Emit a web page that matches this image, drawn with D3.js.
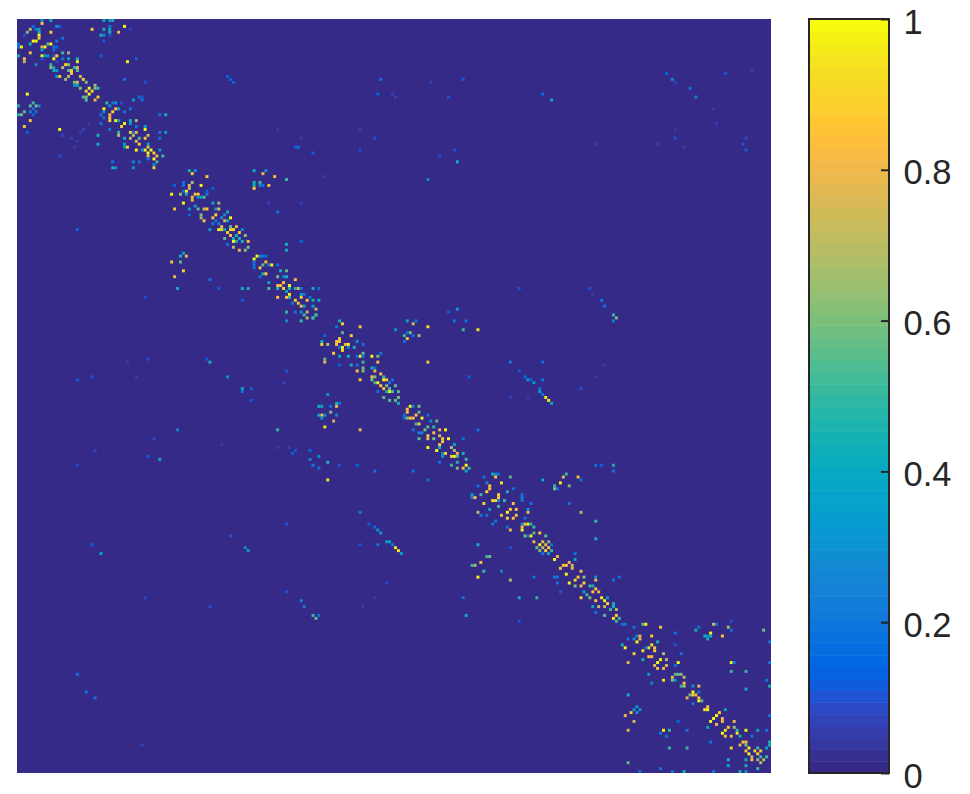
<!DOCTYPE html>
<html><head><meta charset="utf-8">
<script src="https://cdn.jsdelivr.net/npm/d3@7"></script>
<style>html,body{margin:0;padding:0;background:#fff}svg{display:block}</style>
</head><body><svg id="chart" width="970" height="794"></svg>
<script>
const matrixSize = 256;
const colorLevels = [[.2081,.1663,.5292],[.2116,.1898,.5777],[.2123,.2138,.627],[.2081,.2386,.6771],[.1959,.2645,.7279],[.1707,.2919,.7792],[.1253,.3242,.8303],[.0591,.3598,.8683],[.0117,.3875,.882],[.006,.4086,.8828],[.0165,.4266,.8786],[.0329,.443,.872],[.0498,.4586,.8641],[.0629,.4737,.8554],[.0723,.4887,.8467],[.0779,.504,.8384],[.0793,.52,.8312],[.0749,.5375,.8263],[.0641,.557,.824],[.0488,.5772,.8228],[.0343,.5966,.8199],[.0265,.6137,.8135],[.0239,.6287,.8038],[.0231,.6418,.7913],[.0228,.6535,.7768],[.0267,.6642,.7607],[.0384,.6743,.7436],[.059,.6838,.7254],[.0843,.6928,.7062],[.1133,.7015,.6859],[.1453,.7098,.6646],[.1801,.7177,.6424],[.2178,.725,.6193],[.2586,.7317,.5954],[.3022,.7376,.5712],[.3482,.7424,.5473],[.3953,.7459,.5244],[.442,.7481,.5033],[.4871,.7491,.484],[.53,.7491,.4661],[.5709,.7485,.4494],[.6099,.7473,.4337],[.6473,.7456,.4188],[.6834,.7435,.4044],[.7184,.7411,.3905],[.7525,.7384,.3768],[.7858,.7356,.3633],[.8185,.7327,.3498],[.8507,.7299,.336],[.8824,.7274,.3217],[.9139,.7258,.3063],[.945,.7261,.2886],[.9739,.7314,.2666],[.9938,.7455,.2403],[.999,.7653,.2164],[.9955,.7861,.1967],[.988,.8066,.1794],[.9789,.8271,.1633],[.9697,.8481,.1475],[.9626,.8705,.1309],[.9589,.8949,.1132],[.9598,.9218,.0948],[.9661,.9514,.0755],[.9763,.9831,.0538]];
const tickValues = [0,0.2,0.4,0.6,0.8,1];

// [column, row, value]
const block1 = [[8,0,.3],[8,1,.85],[11,0,.45],[5,2,.2],[13,2,.3],[14,2,.15],[25,3,.85],[29,0,.4],[31,0,.3],[32,0,.45],[31,2,.2],[36,2,1],[38,3,.07],[4,3,.7],[3,4,.6],[6,3,.25],[7,3,.4],[7,4,.45],[11,4,.9],[29,3,.45],[31,3,.4],[31,4,.45],[28,5,.45],[29,5,.3],[31,5,.1],[34,4,.8],[29,7,.12],[2,5,.1],[7,5,1],[7,6,.9],[15,6,.2],[5,7,1],[6,7,1],[4,8,.45],[13,7,.2],[0,8,.2],[0,9,.2],[1,9,1],[9,9,1],[10,8,.55],[11,8,1],[8,9,.75],[13,9,.15],[8,10,.4],[12,9,.2],[12,10,.2],[4,11,.85],[8,12,1],[9,12,.4],[10,12,.3],[12,12,.1],[15,11,.5],[17,11,.65],[0,12,.45],[28,12,.12],[12,13,1],[13,12,.9],[15,13,.2],[13,14,.1],[17,13,.4],[20,13,.45],[20,14,1],[2,13,.85],[2,14,.7],[8,13,.12],[37,14,1],[40,13,.12],[6,15,.25],[11,15,.5],[16,15,.9],[15,16,.7],[11,16,.65],[12,16,.4],[12,17,.45],[13,17,.35],[17,15,.65],[19,16,.5],[20,16,.75],[18,17,.9],[17,17,.55],[20,17,.55],[17,19,.7],[18,18,.85],[14,19,.9],[13,19,.4],[21,19,.75],[16,20,.65],[22,20,.9],[19,21,.6],[20,21,.75],[19,22,.3],[20,22,.4],[23,21,.6],[26,22,.65],[21,23,.6],[24,23,1],[23,24,.9],[25,24,.9],[24,25,1],[26,23,.6],[27,23,.5],[22,26,.55],[23,26,.6],[23,27,.55],[27,26,.9],[26,27,.8],[3,25,1],[36,20,.2],[43,21,.1],[5,28,.5],[0,29,.45],[4,29,.55],[6,29,.6],[7,29,.25],[5,30,.2],[4,31,.25],[6,31,.2],[0,32,.45],[1,32,.6],[2,31,.55],[5,32,.15],[4,34,.85],[2,36,.85],[14,37,1],[3,38,.15],[29,30,1],[30,28,.5],[32,28,.2],[31,29,.3],[33,28,.3],[34,30,.4],[29,31,.3],[28,32,.2],[31,33,.85],[31,32,.8],[32,31,.9],[33,30,.85],[31,34,.9],[29,33,.2],[33,34,1],[34,34,.4],[38,30,.2],[38,34,.45],[40,34,.65],[38,35,.35],[36,35,1],[35,36,.9],[43,36,.4],[43,37,1],[40,36,.2],[38,38,.9],[40,38,.8],[39,38,.2],[34,38,.5],[34,39,.7],[36,40,.45],[38,40,.7],[39,39,.7],[40,41,.75],[43,40,.85],[44,39,.75],[41,40,.55],[36,42,.35],[36,43,.35],[37,43,.9],[40,44,1],[41,42,.85],[44,42,.4],[44,43,.8],[45,44,1],[43,44,1],[44,45,1],[42,44,.3],[46,45,.9],[47,46,.8],[44,46,.8],[46,47,1],[48,44,.3],[49,46,.5],[44,47,.2],[47,48,.5],[46,49,.3],[46,50,.9],[48,32,.2],[50,32,.45],[27,39,.45],[27,42,.45],[28,35,.2],[31,37,.2],[32,48,.2],[32,50,.45],[39,48,.25],[39,50,.3],[41,48,.2],[48,38,.2],[48,40,.2],[50,38,.35],[39,27,.4],[41,26,.2],[42,26,.1],[42,27,.2],[35,28,.1],[36,31,.2],[33,50,.3],[20,41,.06],[15,39,.08],[18,40,.07],[21,38,.06],[14,46,.08],[19,43,.06],[22,37,.07],[24,35,.06]];

const block2 = [[58,51,.45],[60,51,.3],[59,52,.85],[64,53,.9],[80,51,.45],[84,51,.3],[83,52,.8],[87,53,.85],[91,54,.5],[59,55,.65],[56,55,.2],[62,56,1],[80,55,.45],[82,55,.5],[85,56,.85],[80,56,.45],[82,56,.25],[83,56,.2],[80,57,.9],[53,56,.15],[56,56,.2],[58,56,.75],[58,57,.75],[57,58,1],[56,58,.2],[57,59,.4],[55,59,.65],[66,57,.15],[52,59,1],[61,59,.9],[60,59,.85],[59,60,.85],[59,61,.8],[64,59,.2],[63,60,.55],[62,60,.4],[61,60,.3],[64,58,.15],[56,62,1],[53,64,.85],[66,62,.4],[68,62,.65],[58,64,.35],[60,63,.3],[61,64,.55],[64,64,.9],[67,64,.3],[68,64,.8],[63,64,.75],[71,65,.45],[58,66,.15],[62,66,.6],[67,66,.9],[66,67,.85],[69,67,.3],[70,66,.25],[62,67,.65],[63,68,.85],[72,67,1],[70,68,.75],[67,68,.2],[66,69,.2],[68,69,.25],[71,68,.4],[69,70,.8],[72,70,.55],[74,70,.8],[65,71,.35],[69,71,.9],[72,71,.9],[76,71,.25],[68,71,1],[70,71,.4],[73,71,.95],[71,72,.9],[72,73,.85],[75,72,.85],[77,73,.65],[70,74,.55],[74,73,.45],[73,74,.45],[75,74,.45],[73,75,1],[76,75,.45],[74,75,.45],[78,75,.85],[71,76,.2],[73,77,.7],[77,78,.6],[78,77,.6],[75,78,.8],[57,80,.8],[56,79,.4],[55,80,.45],[55,82,.55],[52,82,.85],[56,85,.9],[53,87,.8],[65,88,.2],[54,91,.45],[76,91,.45],[78,91,.45],[68,91,.12],[76,95,.12],[91,76,.45],[91,78,.45],[96,75,.15],[88,65,.2],[85,62,.07],[96,62,.07],[81,80,1],[80,81,1],[80,82,.2],[80,83,.2],[80,84,.2],[83,80,.2],[84,80,.2],[82,80,.3],[84,82,.85],[85,83,.25],[83,83,.55],[82,84,.85],[86,83,1],[88,83,.2],[83,86,.45],[84,86,.9],[82,87,.2],[89,85,.45],[91,85,.55],[90,87,.25],[88,87,.6],[91,87,.45],[94,88,.85],[85,89,.4],[85,91,.55],[88,90,.85],[89,90,.85],[90,89,.85],[92,90,1],[92,91,.45],[95,91,.8],[88,91,.45],[90,91,.9],[94,91,.45],[96,91,.2],[100,91,.45],[102,91,.2],[91,92,.4],[92,93,1],[97,93,.2],[96,93,.35],[88,94,.85],[91,94,.85],[92,94,.5],[96,94,.9],[99,94,.2],[94,95,.9],[98,95,.85],[100,95,.45],[102,95,.45],[93,96,.2],[95,96,.8],[96,97,.85],[97,97,.4],[100,97,.4],[101,98,.7],[91,99,.5],[94,99,.2],[96,99,.3],[98,99,.7],[97,100,.5],[98,101,.7],[101,100,.55],[100,101,.5],[91,102,.25],[96,102,.5]];

const block3 = [[101,100,.5],[100,101,.5],[109,102,.45],[110,103,.9],[116,104,.85],[108,104,.2],[132,102,.35],[135,102,.2],[134,103,.75],[139,104,.95],[128,105,.3],[151,105,.5],[156,105,.95],[152,102,.2],[148,102,.2],[149,98,.3],[146,99,.15],[110,106,.55],[113,107,.9],[133,106,.6],[132,106,.2],[136,107,.7],[131,107,.5],[134,107,.2],[132,108,.85],[131,109,.2],[104,107,.15],[109,108,.85],[109,109,.85],[103,109,.45],[103,110,.9],[105,110,.7],[108,109,.85],[108,110,.85],[112,110,1],[115,109,.3],[117,110,.2],[110,111,1],[111,110,.8],[110,112,.95],[109,111,.2],[112,111,.25],[114,111,.45],[107,113,.9],[117,113,.55],[123,113,.2],[109,114,.4],[112,114,.45],[116,114,1],[115,114,.2],[117,114,.2],[120,114,1],[122,114,.6],[122,116,.85],[104,115,.6],[104,116,.75],[117,116,.5],[139,116,.85],[109,117,.15],[113,117,.45],[115,117,.2],[117,118,.6],[120,118,.45],[121,118,.2],[115,119,.85],[117,119,.6],[121,119,.8],[123,120,.85],[116,122,.85],[120,121,.85],[120,122,.6],[121,121,.6],[124,121,.5],[124,122,1],[125,122,.85],[127,122,.2],[121,123,.5],[122,123,1],[123,124,.85],[126,123,.2],[128,124,.55],[124,125,.85],[125,124,.6],[126,125,.55],[129,126,.55],[125,126,.45],[126,126,1],[127,126,.5],[122,126,.2],[124,128,.55],[126,129,.55],[128,129,.55],[129,128,.6],[129,130,.45],[105,127,.3],[108,130,.45],[109,130,.2],[108,131,.8],[103,131,.4],[106,131,.2],[106,133,.6],[103,134,.85],[104,134,.3],[103,135,.3],[108,134,.25],[107,136,.75],[104,138,.95],[116,139,.8],[133,131,1],[132,132,.85],[132,133,.85],[131,134,.2],[131,135,.2],[134,131,.25],[136,131,.6],[136,133,.55],[135,134,.85],[134,135,.85],[133,135,.85],[132,135,.6],[137,135,1],[139,134,.2],[140,136,.3],[142,136,.55],[141,138,.5],[139,138,.55],[138,139,.6],[135,137,.5],[136,137,.85],[134,139,.2],[143,139,.8],[145,139,1],[136,140,.25],[137,140,.25],[136,142,.55],[139,141,.9],[141,140,.85],[143,141,.75],[139,142,.8],[141,142,.6],[144,142,.85],[144,143,.9],[146,142,1],[143,144,.85],[139,145,1],[143,145,.45],[142,146,1],[148,144,.35],[147,145,.7],[148,146,.7],[144,147,.3],[144,148,.3],[145,147,.9],[147,148,.85],[148,148,1],[149,147,.8],[149,148,.5],[151,147,.45],[152,149,.5],[152,151,1],[151,152,.85],[153,152,.5],[147,151,.5],[149,152,.6],[152,153,.4],[149,150,.45],[143,150,.2],[105,156,.95],[105,150,.45],[102,148,.3],[100,151,.22],[102,152,.2],[121,153,.2],[139,156,.2],[134,153,.2],[115,151,.15],[109,151,.1],[156,139,.2],[151,142,.2],[153,121,.15]];

const block4 = [[161,154,.45],[162,154,.3],[163,154,.2],[162,155,.85],[167,155,.55],[158,155,.2],[186,154,.5],[185,155,.75],[190,155,.85],[191,156,.2],[196,151,.2],[198,151,.15],[202,151,.45],[202,153,.2],[178,156,.4],[164,157,.95],[184,157,1],[182,158,.5],[187,158,.6],[182,159,.6],[183,159,.2],[159,157,.25],[156,158,.2],[160,159,.85],[160,158,.85],[168,159,.2],[154,161,.35],[154,162,.25],[155,162,.85],[157,161,.5],[159,160,.9],[163,162,.9],[162,163,.9],[161,163,.95],[163,161,.9],[166,160,.45],[171,162,.25],[171,161,.2],[165,163,.5],[163,163,.25],[187,164,.2],[158,164,.9],[168,164,.85],[174,164,.2],[171,163,.2],[163,165,.5],[160,166,.4],[167,166,.9],[169,166,.85],[166,167,1],[156,167,.7],[173,167,.8],[173,166,.3],[164,168,.85],[168,169,.85],[169,168,.85],[166,169,.9],[159,168,.2],[157,168,.2],[191,167,.7],[172,169,.2],[171,171,.3],[173,171,1],[172,171,.85],[162,170,.2],[161,171,.2],[174,171,.45],[175,172,.5],[171,172,.85],[171,173,1],[167,173,.8],[166,172,.2],[177,174,.85],[175,174,.55],[172,175,.6],[174,175,1],[179,175,.55],[173,175,.2],[175,177,.8],[177,178,1],[178,177,.8],[179,178,.8],[180,177,.6],[181,178,.2],[178,179,.7],[176,179,.55],[180,179,.9],[179,180,.9],[181,180,.5],[177,180,.6],[178,181,.2],[180,181,.4],[196,170,.5],[196,176,.45],[156,178,.45],[167,179,.1],[159,182,.5],[160,182,.6],[157,184,.85],[155,185,.7],[154,185,.5],[158,187,.5],[164,187,.25],[156,189,1],[167,190,.7],[175,189,.2],[183,182,.8],[182,183,1],[189,183,.4],[189,181,.2],[187,184,.8],[186,185,.85],[185,185,.85],[184,186,.85],[188,186,.75],[188,185,.75],[191,187,.85],[186,188,1],[183,189,.2],[182,189,.2],[192,189,.65],[190,189,.85],[189,190,.9],[196,190,.8],[196,189,.3],[204,189,.2],[202,190,.2],[187,191,1],[192,191,.95],[183,191,.2],[189,192,.6],[194,192,.5],[195,192,.45],[196,193,.85],[191,192,.8],[192,194,.4],[195,194,.85],[197,194,.8],[191,196,.9],[194,196,.6],[193,195,.5],[198,196,1],[200,196,.3],[196,197,.85],[199,197,1],[200,198,.9],[202,198,.45],[202,199,.45],[195,199,.4],[197,199,.7],[199,199,.7],[196,201,.2],[203,200,.7],[170,196,.45],[176,196,.5],[151,196,.2],[202,203,1],[201,200,.5],[199,202,.55],[204,203,.5],[203,202,.9],[203,204,.5],[206,205,.2],[205,205,.2],[152,202,.45],[170,204,.12],[184,194,.1]];

const block5 = [[212,205,.55],[213,205,1],[218,206,.85],[209,206,.2],[231,206,.2],[237,205,.2],[236,205,.75],[241,206,.65],[242,207,.2],[242,204,.1],[230,207,.45],[253,207,.6],[215,209,.9],[235,208,1],[233,209,.45],[235,209,.45],[234,209,.3],[234,210,.45],[239,209,.85],[223,208,.2],[207,210,.2],[210,209,.25],[211,209,.8],[211,210,.8],[209,210,.3],[210,211,1],[205,212,.45],[206,213,1],[217,211,.45],[215,212,.95],[214,213,.95],[216,214,.85],[216,213,.85],[212,214,.95],[213,213,.2],[255,211,.2],[223,212,.1],[209,215,.9],[214,216,.85],[215,216,.85],[219,215,.7],[225,215,.2],[212,217,.45],[218,217,1],[217,218,1],[207,218,.75],[220,217,.7],[216,219,.8],[220,219,.75],[219,220,.8],[217,220,.85],[224,218,1],[223,219,.2],[242,218,1],[243,218,.2],[242,221,.5],[247,221,.5],[255,218,.2],[214,222,.35],[224,222,.6],[225,222,.6],[222,223,.8],[223,222,.55],[226,223,.7],[222,224,.6],[219,224,.95],[223,224,.3],[226,225,.85],[215,225,.25],[226,226,.7],[225,226,.5],[255,226,.45],[229,226,.3],[231,226,.8],[247,227,.45],[228,229,.6],[229,228,1],[230,229,.8],[231,228,.2],[229,229,.9],[227,230,.75],[231,231,1],[232,231,.55],[231,230,.85],[229,232,.2],[207,229,.45],[234,233,.85],[234,234,1],[233,234,.95],[240,234,.4],[238,235,.9],[237,236,1],[236,237,1],[235,238,1],[239,237,.8],[239,238,.8],[243,238,.8],[237,239,.8],[234,240,.4],[227,241,.2],[243,240,.65],[241,240,.85],[240,241,.95],[244,241,.5],[247,241,1],[251,241,.35],[254,241,.2],[239,242,1],[244,242,.95],[249,243,.2],[240,243,.8],[242,243,.8],[245,243,.45],[246,245,.85],[247,245,.85],[242,247,.9],[245,246,.75],[247,246,.6],[248,247,1],[250,248,.9],[247,248,.85],[251,247,.5],[254,247,.4],[255,245,.45],[255,246,.45],[252,248,.85],[248,249,1],[251,249,.9],[249,250,.7],[252,250,.5],[254,250,.5],[247,251,.45],[241,251,.45],[249,251,.85],[251,251,.65],[253,251,.7],[252,252,.7],[247,253,.45],[241,253,.4],[251,254,.5],[207,252,.55],[211,255,.2],[226,255,.45],[245,255,.45],[247,255,.3],[236,255,.2],[222,255,.2],[218,254,.2],[208,235,.85],[206,236,.8],[210,233,.35],[209,234,.35],[211,234,.3],[210,235,.3],[209,238,.75],[207,241,.75],[219,241,1],[221,241,.5],[218,242,.2],[220,243,.2],[221,247,.5],[227,247,.5],[255,236,.2],[224,238,.15],[235,245,.2],[254,224,.2]];

const upperRight = [[71,19,.15],[72,20,.15],[73,21,.15],[123,20,.2],[122,25,.15],[151,20,.12],[140,21,.07],[127,25,.07],[128,26,.07],[146,26,.1],[88,37,.05],[96,40,.05],[116,37,.05],[121,40,.1],[94,43,.12],[95,43,.18],[100,45,.15],[116,44,.08],[148,44,.1],[143,46,.08],[149,48,.45],[104,53,.05],[139,54,.25],[220,18,.15],[222,20,.25],[223,21,.07],[228,23,.2],[230,26,.25],[240,18,.1],[178,25,.18],[181,27,.4],[236,30,.05],[237,35,.07],[223,37,.05],[223,40,.08],[247,40,.1],[246,42,.1],[247,44,.12],[217,42,.06],[226,43,.05],[196,42,.06],[249,17,.05],[170,91,.1],[194,91,.1],[195,93,.06],[198,95,.2],[199,97,.2],[202,100,.5],[203,101,.6],[202,102,.22],[167,116,.22],[178,116,.18],[170,119,.12],[172,121,.17],[173,122,.35],[174,122,.15],[175,123,.35],[178,122,.2],[177,125,.2],[177,126,.35],[178,127,.2],[191,125,.1],[179,128,.95],[180,129,.95],[181,130,.4],[167,128,.07],[173,128,.05],[199,117,.05],[196,121,.05]];

const lowerLeft = [[25,178,.15],[28,181,.4],[72,175,.1],[91,171,.1],[77,179,.3],[78,180,.35],[116,167,.22],[119,171,.13],[121,172,.18],[122,173,.3],[123,174,.35],[125,177,.35],[126,177,.4],[127,178,.2],[116,178,.12],[122,178,.2],[128,179,.95],[129,180,.95],[130,181,.35],[43,196,.08],[65,199,.08],[91,194,.1],[96,197,.22],[97,199,.22],[100,202,.5],[101,203,.55],[102,202,.2],[125,191,.08],[121,196,.05],[117,199,.05],[20,122,.12],[25,121,.1],[44,115,.08],[64,115,.15],[65,116,.45],[71,121,.3],[76,125,.38],[76,126,.2],[79,125,.15],[79,129,.12],[54,139,.25],[88,139,.5],[46,142,.08],[48,149,.42],[44,148,.12],[26,146,.08],[20,151,.08],[91,119,.1],[90,123,.07],[92,145,.07],[94,146,.1],[93,147,.12],[99,146,.15],[99,149,.25],[102,131,.45],[102,134,.45],[40,121,.06],[37,116,.05],[69,144,.05],[88,145,.05],[20,71,.15],[43,94,.1],[23,228,.2],[20,222,.2],[26,230,.2],[42,246,.07]];

const cells = [block1, block2, block3, block4, block5, upperRight, lowerLeft].flat();

const svg = d3.select("#chart");
const indices = d3.range(matrixSize);
const x = d3.scaleBand().domain(indices).range([17, 771]);
const y = d3.scaleBand().domain(indices).range([19, 773]);
const toRgb = c => d3.rgb(c[0]*255, c[1]*255, c[2]*255).formatHex();
const palette = colorLevels.map(toRgb);
const color = d3.scaleQuantize().domain([0, 1]).range(palette);

svg.append("rect").attr("x", x.range()[0]).attr("y", y.range()[0])
  .attr("width", x.range()[1] - x.range()[0]).attr("height", y.range()[1] - y.range()[0])
  .attr("fill", color(0));
svg.append("g").selectAll("rect").data(cells).join("rect")
  .attr("x", d => x(d[0])).attr("y", d => y(d[1]))
  .attr("width", x.bandwidth()).attr("height", y.bandwidth())
  .attr("fill", d => color(d[2]));

// colour bar
const barLeft = 809, barWidth = 80;
const barScale = d3.scaleLinear().domain([0, 1]).range([773, 19]);
const bands = d3.scaleBand().domain(d3.range(palette.length)).range([773, 19]);
svg.append("g").selectAll("rect").data(palette).join("rect")
  .attr("x", barLeft).attr("y", (d, i) => bands(i))
  .attr("width", barWidth).attr("height", bands.bandwidth() + 0.5)
  .attr("fill", d => d);
svg.append("rect").attr("x", barLeft).attr("y", 19).attr("width", barWidth).attr("height", 754)
  .attr("fill", "none").attr("stroke", "#262626").attr("stroke-width", 2);
const axis = d3.axisRight(barScale).tickValues(tickValues).tickFormat(d3.format("~g"))
  .tickSize(-8).tickPadding(14.5);
const ag = svg.append("g").attr("transform", `translate(${barLeft + barWidth},0)`).call(axis);
ag.select(".domain").remove();
ag.selectAll("line").attr("stroke", "#262626").attr("stroke-width", 2);
ag.selectAll("text").attr("font-family", "'Liberation Sans', Arial, sans-serif")
  .attr("font-size", 34.5).attr("fill", "#262626").attr("dy", "0.41em");
</script></body></html>
